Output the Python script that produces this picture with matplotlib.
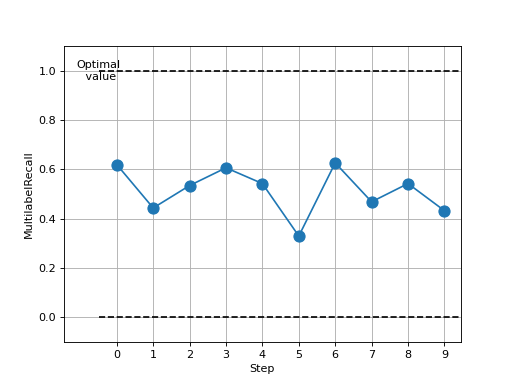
import matplotlib
matplotlib.use("Agg")
import matplotlib.pyplot as plt

steps = [0, 1, 2, 3, 4, 5, 6, 7, 8, 9]
recall = [0.619, 0.443, 0.534, 0.606, 0.542, 0.329, 0.626, 0.468, 0.542, 0.432]
optimal = 1.0
worst = 0.0

fig, ax = plt.subplots(figsize=(6.4, 4.8), dpi=80)
ax.plot(steps, recall, marker='o', markersize=10)
ax.hlines([optimal, worst], -0.5, 9.5, colors='k', linestyles='--')
ax.text(-0.5, optimal, "Optimal\n value", ha='center', va='center')
ax.set_xlim(-1.45, 9.45)
ax.set_ylim(-0.1, 1.1)
ax.set_xticks(steps)
ax.set_xlabel('Step')
ax.set_ylabel('MultilabelRecall')
ax.grid(True)
fig.savefig('out.png')
